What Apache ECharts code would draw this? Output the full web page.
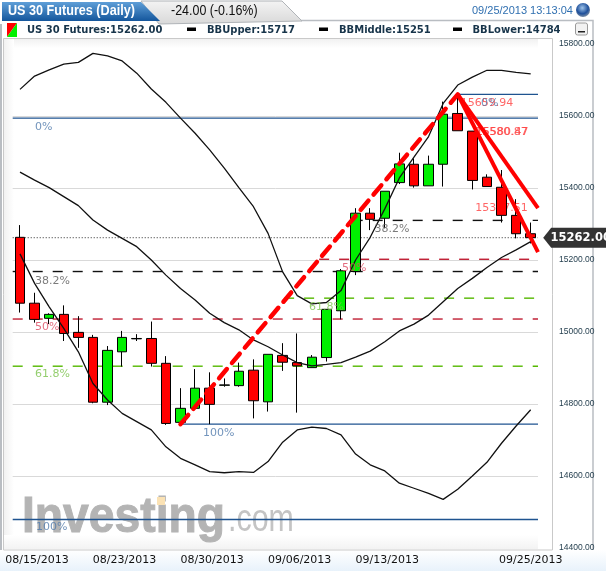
<!DOCTYPE html>
<html><head><meta charset="utf-8">
<style>html,body{margin:0;padding:0;background:#fff;overflow:hidden}#c{width:606px;height:571px}</style>
<script src="https://cdn.jsdelivr.net/npm/echarts@6/dist/echarts.min.js"></script>
</head><body><div id="c"></div>
<script>
const dates = ['08/15/2013','08/16/2013','08/19/2013','08/20/2013','08/21/2013','08/22/2013','08/23/2013','08/25/2013','08/26/2013','08/27/2013','08/28/2013','08/29/2013','08/30/2013','09/01/2013','09/03/2013','09/04/2013','09/05/2013','09/05/2013b','09/06/2013','09/08/2013','09/09/2013','09/10/2013','09/11/2013','09/12/2013','09/13/2013','09/15/2013','09/16/2013','09/17/2013','09/18/2013','09/19/2013','09/20/2013','09/21/2013','09/22/2013','09/23/2013','09/24/2013','09/25/2013'];
const shownDates = ['08/15/2013','08/23/2013','08/30/2013','09/06/2013','09/13/2013','09/25/2013'];
// open, close, low, high
const ohlc = [
[15263,15080,15054,15297],[15080,15035,15026,15109],[15038,15049,15022,15052],[15049,14996,14975,15074],
[14999,14985,14956,15044],[14985,14805,14802,14992],[14805,14949,14797,14961],[14945,14985,14904,15003],
[14981,14982,14975,14994],[14982,14913,14904,15029],[14913,14746,14742,14933],[14749,14788,14747,14844],
[14788,14844,14788,14897],[14844,14799,14744,14888],[14852,14853,14848,14871],[14851,14891,14848,14915],
[14894,14809,14760,14924],[14806,14938,14779,14938],[14935,14916,14892,14969],[14915,14906,14776,14996],
[14901,14930,14901,14936],[14929,15063,14918,15063],[15059,15170,15035,15175],[15168,15330,15158,15344],
[15330,15313,15283,15344],[15316,15391,15288,15391],[15415,15467,15411,15498],[15466,15406,15401,15482],
[15406,15466,15406,15490],[15466,15605,15404,15640],[15607,15559,15559,15663],[15558,15421,15396,15558],
[15430,15404,15404,15438],[15402,15324,15304,15450],[15324,15273,15260,15369],[15273,15262,15246,15304]];
const bbUpper = [15674,15711,15728,15744,15749,15774,15767,15753,15719,15675,15638,15594,15552,15506,15455,15401,15348,15274,15167,15101,15078,15082,15115,15200,15263,15342,15428,15486,15543,15635,15686,15708,15727,15727,15721,15717];
const bbMiddle = [15444,15422,15401,15376,15351,15311,15283,15260,15237,15200,15158,15121,15089,15052,15026,15006,14978,14959,14936,14915,14906,14910,14915,14930,14947,14973,15003,15022,15047,15084,15121,15149,15179,15207,15228,15251];
const bbLower = [15217,15135,15070,15010,14945,14857,14811,14774,14751,14728,14681,14649,14631,14612,14609,14612,14610,14640,14694,14728,14736,14732,14714,14661,14631,14614,14580,14566,14552,14535,14563,14600,14638,14691,14739,14784];
const lastPrice = 15262;
// Fibonacci levels: [value, startBar, kind]
const fibA = [[15594,-0.5,'blue'],[15168,-0.5,'black'],[15036,-0.5,'red'],[14905,-0.5,'green'],[14479,-0.5,'blue']];
const fibB = [[15660,30,'blue'],[15310,22.8,'black'],[15202,20.5,'red'],[15094,18.1,'green'],[14744,11,'blue']];
const trendUp = [[11,14744],[30,15660]];
const fanA = [[30,15660],[35.5,15344]];
const fanB = [[30,15660],[35.5,15222]];
// label, bar, value, kind
const fibLabels = [['0%',1.03,15569,'blue'],['38.2%',1.03,15142,'grey'],['50%',1.03,15014,'red'],['61.8%',1.03,14883,'green'],['100%',1.1,14458,'blue'],
['0%',31.6,15636,'blue'],['38.2%',24.3,15285,'grey'],['50%',22.07,15178,'red'],['61.8%',19.8,15069,'green'],['100%',12.55,14719,'blue']];
const priceLabels = [['15659.94',30.2,15636],['15580.87',31.2,15556],['15580.47',31.25,15556],['15317.51',31.2,15344]];
const legendTexts = ['US 30 Futures:15262.00','BBUpper:15717','BBMiddle:15251','BBLower:14784'];

const lineCol = {blue:'#1f5390',black:'#111111',red:'#c01f34',green:'#55b800'};
const textCol = {blue:'#4f79ab',grey:'#5a5a5a',red:'#dc4a60',green:'#79c24a'};
const F = 'DejaVu Sans';
const chart = echarts.init(document.getElementById('c'),null,{renderer:'canvas',width:606,height:571});

function seg(data,color,width,type,z,cap){
  return {type:'line',xAxisIndex:1,yAxisIndex:0,data,symbol:'none',silent:true,z,clip:true,animation:false,
    lineStyle:{color,width,type,cap:cap||'butt'}};
}
const series = [];
[...fibA,...fibB].forEach(f=>{
  const solid = f[2]==='blue';
  series.push(seg([[f[1],f[0]],[35.5,f[0]]],lineCol[f[2]],1.4,solid?'solid':[10,10],1));
});
series.push(seg([[-0.5,lastPrice],[35.5,lastPrice]],'#555555',1.2,[1,2],1));
series.push({type:'scatter',xAxisIndex:1,yAxisIndex:0,symbolSize:0,z:1.5,silent:true,animation:false,
  data:priceLabels.map(p=>({value:[p[1],p[2]],label:{formatter:p[0]}})),
  label:{show:true,position:'right',distance:0,color:'#ff4040',fontFamily:F,fontSize:11}});
series.push({type:'candlestick',xAxisIndex:0,yAxisIndex:0,data:ohlc,z:2,barWidth:10,animation:false,
  itemStyle:{color:'#00f000',color0:'#ff0000',borderColor:'#000',borderColor0:'#000',borderColorDoji:'#000',borderWidth:1},
  markPoint:{silent:true,animation:false,symbol:'path://M0 10L8 0H63V20H8Z',symbolSize:[63,20],symbolOffset:[44,0],
    itemStyle:{color:'#333333'},
    data:[{coord:[35,lastPrice],label:{show:true,formatter:'15262.00',color:'#fff',fontFamily:F,fontWeight:'bold',fontSize:11.5,offset:[6,0]}}]}});
[bbUpper,bbMiddle,bbLower].forEach(d=>{
  series.push({type:'line',xAxisIndex:0,yAxisIndex:0,data:d,symbol:'none',silent:true,z:3,animation:false,
    lineStyle:{color:'#111111',width:1.3}});
});
series.push({type:'scatter',xAxisIndex:1,yAxisIndex:0,symbolSize:0,z:3.5,silent:true,animation:false,
  data:fibLabels.map(p=>({value:[p[1],p[2]],label:{formatter:p[0],color:textCol[p[3]]}})),
  label:{show:true,position:'right',distance:0,fontFamily:F,fontSize:11}});
series.push(seg(trendUp,'#ff0000',4.5,[12,8],4,'round'));
series.push(seg(fanA,'#ff0000',4,'solid',4));
series.push(seg(fanB,'#ff0000',4,'solid',4));

const hdr = [
 {type:'rect',shape:{x:0,y:550,width:606,height:21},style:{fill:new echarts.graphic.LinearGradient(0,0,0,1,[{offset:0,color:'#ffffff'},{offset:1,color:'#e8f2fb'}])}},
 {type:'rect',shape:{x:3.5,y:38.5,width:549,height:511.5},style:{fill:'#fff',stroke:'#c9c9c9',lineWidth:1}},
 {type:'rect',shape:{x:4,y:39,width:534,height:9},style:{fill:new echarts.graphic.LinearGradient(0,0,0,1,[{offset:0,color:'#f1f1f1'},{offset:1,color:'#ffffff'}])}},
 {type:'rect',shape:{x:4,y:39,width:10,height:510},style:{fill:new echarts.graphic.LinearGradient(0,0,1,0,[{offset:0,color:'#f1f1f1'},{offset:1,color:'#ffffff'}])}},
 {type:'rect',shape:{x:4,y:535,width:534,height:14},style:{fill:new echarts.graphic.LinearGradient(0,0,0,1,[{offset:0,color:'#ffffff'},{offset:1,color:'#f3f3f3'}])}},
 {type:'polyline',shape:{points:[[301,20.5],[593,20.5],[593,550]]},style:{stroke:'#b9bdc2',lineWidth:1.5,fill:'none'}},
 {type:'polyline',shape:{points:[[1,24],[1,550]]},style:{stroke:'#b9bdc2',lineWidth:2,fill:'none'}},
 {type:'polygon',shape:{points:[[141,1],[282,1],[302,21],[159,24]]},style:{fill:new echarts.graphic.LinearGradient(0,0,0,1,[{offset:0,color:'#f4f4f4'},{offset:1,color:'#d8d8d8'}]),stroke:'#b0b4b8',lineWidth:1}},
 {type:'polygon',shape:{points:[[2,2],[141,2],[160,21],[2,21]]},style:{fill:new echarts.graphic.LinearGradient(0,0,0,1,[{offset:0,color:'#5f9fd8'},{offset:1,color:'#14569c'}])}},
 {type:'text',x:8,y:11,scaleX:.87,style:{text:'US 30 Futures (Daily)',fill:'#fff',font:'bold 14.5px "Liberation Sans"',textVerticalAlign:'middle'}},
 {type:'text',x:171,y:11,scaleX:.89,style:{text:'-24.00 (-0.16%)',fill:'#111',font:'14px "Liberation Sans"',textVerticalAlign:'middle'}},
 {type:'text',x:472,y:11,style:{text:'09/25/2013 13:13:04',fill:'#2f6fb0',font:'11px "Liberation Sans"',textVerticalAlign:'middle'}},
 {type:'circle',shape:{cx:583,cy:10,r:7},style:{fill:new echarts.graphic.RadialGradient(.45,.35,.7,[{offset:0,color:'#9fc4ea'},{offset:.6,color:'#1e4f9a'},{offset:1,color:'#8d9aa8'}])}},
 {type:'polygon',shape:{points:[[7,23],[17,23],[7,37]]},style:{fill:'#ff0000'}},
 {type:'polygon',shape:{points:[[17,23],[17,37],[7,37]]},style:{fill:'#00f000'}},
 {type:'text',x:27,y:30,style:{text:legendTexts[0],fill:'#17344a',font:'bold 11.1px "DejaVu Sans Condensed","Liberation Sans"',textVerticalAlign:'middle'}},
 {type:'rect',shape:{x:187,y:27.5,width:9,height:3.5},style:{fill:'#000'}},
 {type:'text',x:207,y:30,style:{text:legendTexts[1],fill:'#17344a',font:'bold 11.1px "DejaVu Sans Condensed","Liberation Sans"',textVerticalAlign:'middle'}},
 {type:'rect',shape:{x:319,y:27.5,width:9,height:3.5},style:{fill:'#000'}},
 {type:'text',x:339,y:30,style:{text:legendTexts[2],fill:'#17344a',font:'bold 11.1px "DejaVu Sans Condensed","Liberation Sans"',textVerticalAlign:'middle'}},
 {type:'rect',shape:{x:453,y:27.5,width:9,height:3.5},style:{fill:'#000'}},
 {type:'text',x:472.5,y:30,style:{text:legendTexts[3],fill:'#17344a',font:'bold 11.1px "DejaVu Sans Condensed","Liberation Sans"',textVerticalAlign:'middle'}},
 {type:'rect',shape:{x:575.5,y:23,width:12,height:12,r:2},style:{fill:'#f2f2f2',stroke:'#9a9a9a',lineWidth:1}},
 {type:'rect',shape:{x:578,y:31,width:7,height:1.5},style:{fill:'#222'}}
];
const mark = [
 {type:'text',x:22,y:518,scaleX:.925,style:{text:'Investing',fill:'#b4b4b4',stroke:'#b4b4b4',lineWidth:1,font:'bold 50px "Liberation Sans"',textVerticalAlign:'middle'}},
 {type:'text',x:228,y:521,scaleX:.8,style:{text:'.com',fill:'#c4c4c4',font:'38px "Liberation Sans"',textVerticalAlign:'middle'}},
 {type:'rect',shape:{x:157,y:497,width:8,height:8},style:{fill:'#fbe2b4'}}
];

chart.setOption({
  animation:false,
  backgroundColor:'#fff',
  graphic:{elements:[...hdr.map(e=>({...e,z:-10,silent:true})),...mark.map(e=>({...e,z:-5,silent:true}))]},
  grid:{left:12.7,right:68,top:44,bottom:23,containLabel:false},
  xAxis:[
    {type:'category',data:dates,boundaryGap:true,axisLine:{show:false},axisTick:{show:false},splitLine:{show:false},
     axisLabel:{interval:(i,v)=>shownDates.includes(v),margin:7,hideOverlap:false,showMinLabel:true,showMaxLabel:true,
       formatter:v=>v===shownDates[5]?`{b|${v}}`:`{a|${v}}`,
       rich:{a:{fontFamily:F,fontSize:11,color:'#111',padding:[0,0,0,34]},b:{fontFamily:F,fontSize:11,color:'#111'}}}},
    {type:'value',min:-0.5,max:35.5,show:false}
  ],
  yAxis:[{type:'value',position:'right',min:14400,max:15800,interval:200,scale:true,
    axisLine:{show:false},axisTick:{show:false},
    splitLine:{show:true,showMinLine:false,showMaxLine:false,lineStyle:{color:'#d9d9d9',width:1}},
    axisLabel:{margin:21,color:'#1f3a4a',fontFamily:'Liberation Sans',fontSize:8.5,formatter:v=>v.toFixed(2)}}],
  series
});
</script></body></html>
